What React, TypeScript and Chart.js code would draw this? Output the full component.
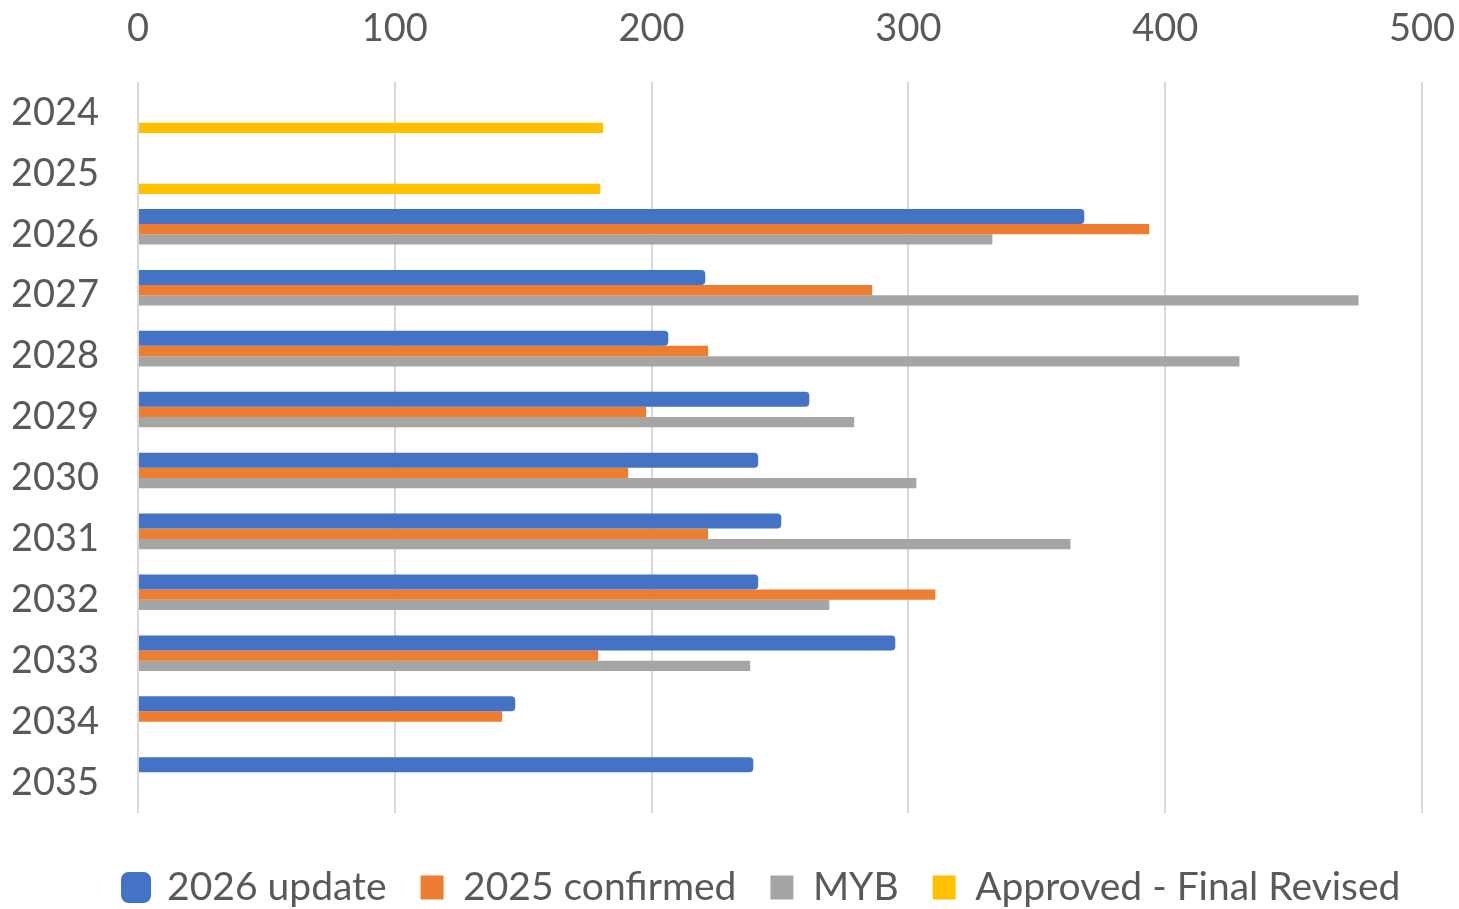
import React, { useEffect, useRef } from 'react';
import { Chart, registerables } from 'chart.js';
Chart.register(...registerables);

const categories = ['2024', '2025', '2026', '2027', '2028', '2029', '2030', '2031', '2032', '2033', '2034', '2035'];
const update2026 = [null, null, 368.5, 220.9, 206.5, 261.4, 241.5, 250.5, 241.5, 294.9, 146.9, 239.6];
const confirmed2025 = [null, null, 393.8, 285.9, 222, 197.9, 190.9, 222, 310.5, 179.2, 141.8, null];
const myb = [null, null, 332.7, 475.3, 428.9, 278.9, 303.1, 363.1, 269.2, 238.4, null, null];
const approvedFinal = [181.1, 180, null, null, null, null, null, null, null, null, null, null];
const xTicks = [0, 100, 200, 300, 400, 500];

const FONT = 'Lato, "Open Sans", sans-serif';
const TEXT = '#595959';

const legendShift = {
  id: 'legendShift',
  afterLayout(chart: any) {
    const lg = chart.legend;
    if (!lg) return;
    const dx = 45;
    const dy = 21;
    lg.left += dx; lg.right += dx;
    lg.top += dy; lg.bottom += dy;
  },
};

export default function App() {
  const ref = useRef<HTMLCanvasElement>(null);
  useEffect(() => {
    const chart = new Chart(ref.current!, {
      type: 'bar',
      data: {
        labels: categories,
        datasets: [
          { label: '2026 update', data: update2026, backgroundColor: '#4472C4', categoryPercentage: 0.779, barPercentage: 1.265, borderRadius: 4, borderSkipped: 'start' },
          { label: '2025 confirmed', data: confirmed2025, backgroundColor: '#ED7D31', categoryPercentage: 0.677, barPercentage: 1 },
          { label: 'MYB', data: myb, backgroundColor: '#A5A5A5', categoryPercentage: 0.677, barPercentage: 1 },
          { label: 'Approved - Final Revised', data: approvedFinal, backgroundColor: '#FFC000', categoryPercentage: 0.677, barPercentage: 1 },
        ] as any,
      },
      options: {
        indexAxis: 'y',
        animation: false,
        responsive: true,
        maintainAspectRatio: false,
        layout: { padding: { left: 13, right: 37, top: 0, bottom: 13 } },
        scales: {
          x: {
            position: 'top',
            min: xTicks[0],
            max: xTicks[xTicks.length - 1],
            afterBuildTicks: (axis: any) => { axis.ticks = xTicks.map((v) => ({ value: v })); },
            afterFit: (s: any) => { s.paddingLeft = 0; s.paddingRight = 0; s.height = 82; },
            ticks: { font: { family: FONT, size: 38 }, color: TEXT, padding: 30 },
            grid: { color: '#D9D9D9', lineWidth: 2, drawTicks: false },
            border: { display: false },
          },
          y: {
            afterFit: (s: any) => { s.paddingTop = 0; s.paddingBottom = 0; s.width = 125; },
            grid: { display: false, drawTicks: false },
            border: { display: false },
            ticks: { font: { family: FONT, size: 38 }, color: TEXT, padding: 39 },
          },
        },
        plugins: {
          legend: {
            position: 'bottom',
            labels: {
              font: { family: FONT, size: 39 },
              color: TEXT,
              boxWidth: 23,
              boxHeight: 24,
              padding: 34,
              useBorderRadius: true,
              generateLabels: (c: any) => {
                const items = Chart.defaults.plugins.legend.labels.generateLabels(c);
                items.forEach((it: any, i: number) => {
                  it.lineWidth = i === 0 ? 7 : 0;
                  it.strokeStyle = it.fillStyle;
                  it.borderRadius = i === 0 ? 4 : 0;
                });
                return items;
              },
            },
          },
          tooltip: { enabled: false },
        },
      } as any,
      plugins: [legendShift],
    });
    return () => chart.destroy();
  }, []);
  return (
    <div style={{ position: 'fixed', left: 0, top: 0, width: '1459px', height: '909px', background: '#fff' }}>
      <canvas ref={ref} />
    </div>
  );
}
